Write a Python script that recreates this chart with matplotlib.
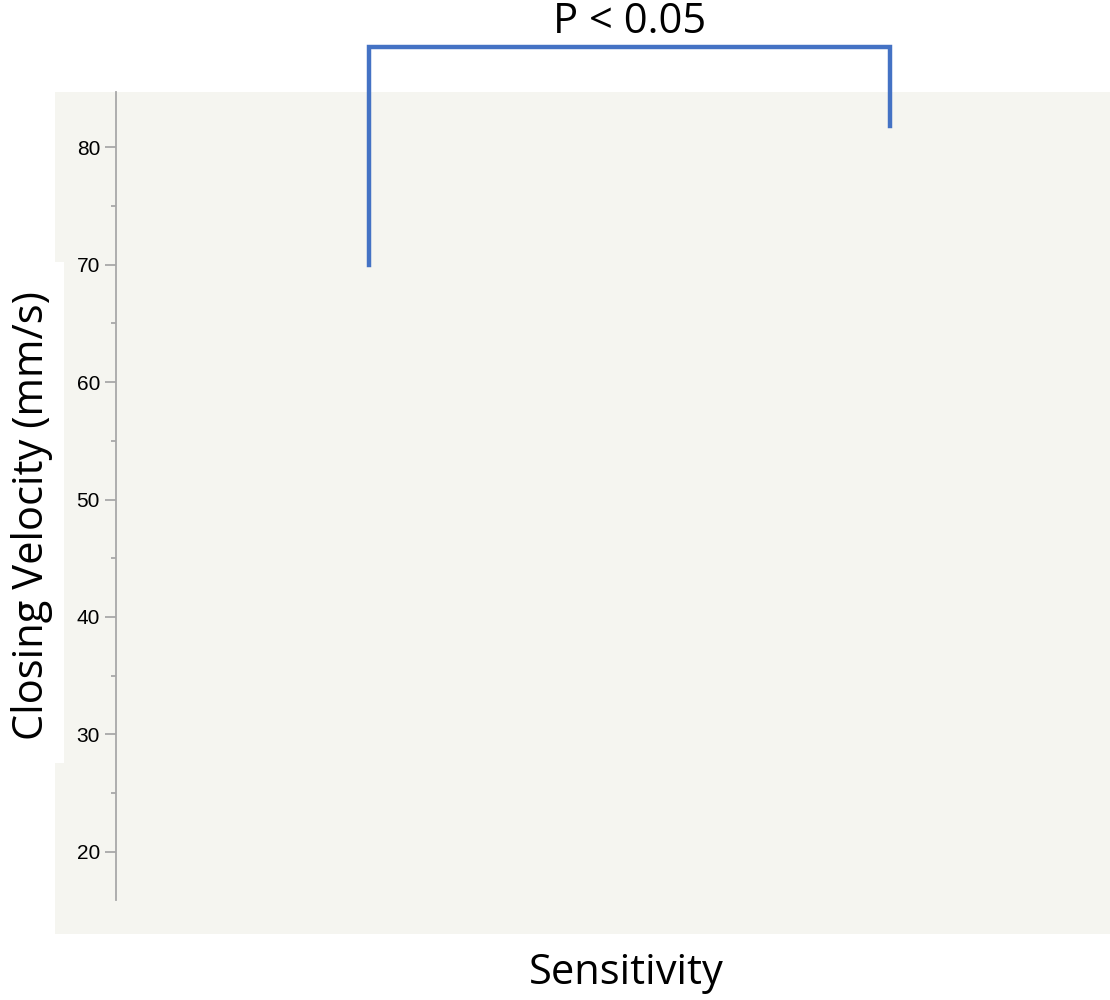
import matplotlib.pyplot as plt
from matplotlib.patches import Rectangle
from matplotlib.ticker import MultipleLocator

# Data
y_ticks = [20, 30, 40, 50, 60, 70, 80]
y_range = (15.9, 84.7)
bracket_x = [0.255, 0.779]
bracket_low = [70, 81.8]
bracket_top = 88.5
p_label = "P < 0.05"
x_label = "Sensitivity"
y_label = "Closing Velocity (mm/s)"

blue = "#4472C4"
grey = "#A8A8A8"
W, H = 1110, 1000

fig = plt.figure(figsize=(W / 100, H / 100), dpi=100)
fig.patch.set_facecolor("white")

# background panel
fig.patches.append(Rectangle((55 / W, 1 - 934 / H), (W - 55) / W, (934 - 92) / H,
                             transform=fig.transFigure, facecolor="#F5F5F0",
                             edgecolor="none", zorder=0))
# white patch behind y label
fig.patches.append(Rectangle((0, 1 - 763 / H), 64 / W, (763 - 262) / H,
                             transform=fig.transFigure, facecolor="white",
                             edgecolor="none", zorder=1))

ax = fig.add_axes([116 / W, 1 - 900 / H, (W - 116) / W, (900 - 92) / H])
ax.set_zorder(2)
ax.set_facecolor("none")
ax.set_xlim(0, 1)
ax.set_ylim(*y_range)
ax.set_yticks(y_ticks)
ax.yaxis.set_minor_locator(MultipleLocator(5))
for s in ["top", "right", "bottom"]:
    ax.spines[s].set_visible(False)
ax.spines["left"].set_color(grey)
ax.spines["left"].set_linewidth(1.3)
ax.set_xticks([])
ax.tick_params(axis="y", which="major", length=8, width=1.3, color=grey,
               labelsize=15, pad=3.5)
ax.tick_params(axis="y", which="minor", length=3.5, width=1.3, color=grey)
for t in ax.get_yticklabels():
    t.set_fontfamily("Liberation Sans")

# significance bracket
ax.plot([bracket_x[0], bracket_x[0], bracket_x[1], bracket_x[1]],
        [bracket_low[0], bracket_top, bracket_top, bracket_low[1]],
        color=blue, lw=3.2, clip_on=False, solid_joinstyle="miter", zorder=5)

fig.text(630 / W, 1 - 22 / H, p_label, ha="center", va="center",
         fontsize=30, family="Open Sans", zorder=3)
fig.text(626 / W, 1 - 973 / H, x_label, ha="center", va="center",
         fontsize=30, family="Open Sans", zorder=3)
fig.text(32 / W, 1 - 516 / H, y_label, ha="center", va="center", rotation=90,
         fontsize=30, family="Open Sans", zorder=3)

fig.savefig("out.png", dpi=100)
